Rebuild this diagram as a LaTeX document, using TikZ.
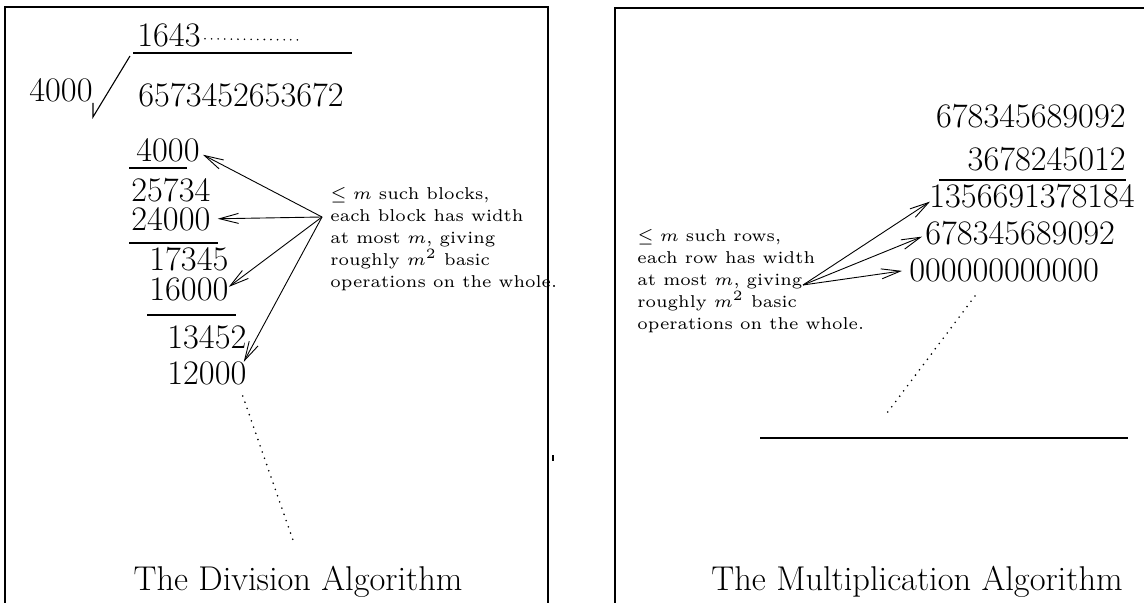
\documentclass[tikz,border=0pt]{standalone}
\usepackage{amsmath}
\usepackage{amssymb}
\usepackage{graphicx}
\usepackage{tikz}
\usetikzlibrary{arrows.meta}

\newcommand{\notetext}[1]{\scalebox{1.43}{\fontsize{6}{7.52}\selectfont\begin{tabular}[t]{@{}l@{}}#1\end{tabular}}}

\begin{document}
\begin{tikzpicture}[x=0.5pt, y=-0.5pt]
    \tikzset{num/.style = {inner sep=0pt, font=\fontsize{17.2}{20}\selectfont}}
    \tikzset{note/.style = {inner sep=0pt, anchor=base west}}
    \tikzset{arrow/.style = {-{Straight Barb[length=9.5pt,width=5pt]}, line width=0.45pt}}
    \tikzset{frame/.style = {line width=0.6pt}}
    \tikzset{rule/.style = {line width=0.55pt}}
    \tikzset{trail/.style = {line width=0.9pt, dash pattern=on 0pt off 3.3pt, line cap=round}}
    \useasboundingbox (0,0) rectangle (1144,603);
    % the division
    \draw[frame] (5,603) -- (5,7) -- (548,7) -- (548,603);
    \draw[rule] (553,455) -- (553,461);
    \node[num, anchor=base west] (quot) at (137,47) {1643};
    \coordinate (quotend) at (303,40);
    \draw[trail] ([xshift=2pt, yshift=-1.5pt]quot.east) -- (quotend);
    \draw[rule] (133,53) -- (352,53);
    \node[num, anchor=base west] (divisor) at (29,102) {4000};
    \draw[rule] (93,103) -- (93,117) -- (130,56);
    \node[num, anchor=base west] (dividend) at (138,107) {6573452653672};
    \node[num, anchor=base west] (sub1) at (136,162) {4000};
    \draw[rule] (129,168) -- (187,168);
    \node[num, anchor=base west] (rem1) at (131,202) {25734};
    \node[num, anchor=base west] (sub2) at (131,231) {24000};
    \draw[rule] (129,243) -- (218,243);
    \node[num, anchor=base west] (rem2) at (149,271) {17345};
    \node[num, anchor=base west] (sub3) at (149,301) {16000};
    \draw[rule] (147,315) -- (236,315);
    \node[num, anchor=base west] (rem3) at (167,349) {13452};
    \node[num, anchor=base west] (sub4) at (167,385) {12000};
    \coordinate (divend) at (294,543);
    \draw[trail] ([xshift=-2pt, yshift=-5pt]sub4.south east) -- (divend);
    \node[note] (blocks) at (330,200) {\notetext{$\leq m$ such blocks,\\each block has width\\at most $m$, giving\\roughly $m^2$ basic\\operations on the whole.}};
    \coordinate (blk) at (322,217);
    \draw[arrow] (blk) -- ([xshift=1.5pt, yshift=-2pt]sub1.east);
    \draw[arrow] (blk) -- ([xshift=3.5pt, yshift=0.5pt]sub2.east);
    \draw[arrow] (blk) -- ([yshift=1.5pt]sub3.east);
    \draw[arrow] (blk) -- ([xshift=-1.5pt]sub4.north east);
    \node[num, anchor=base] (divtitle) at (298,590) {The Division Algorithm};
    % the multiplication
    \draw[frame] (615,603) -- (615,8) -- (1144,8);
    \node[num, anchor=base east] (fac1) at (1126,128) {678345689092};
    \node[num, anchor=base east] (fac2) at (1126,171) {3678245012};
    \draw[rule] (939,180) -- (1126,180);
    \node[num, anchor=base west] (part1) at (929,208) {1356691378184};
    \node[num, anchor=base west] (part2) at (925,245) {678345689092};
    \node[num, anchor=base west] (part3) at (909,282) {000000000000};
    \coordinate (mulstart) at (975,296);
    \coordinate (mulend) at (884,417);
    \draw[trail] (mulstart) -- (mulend);
    \draw[rule] (760,438) -- (1128,438);
    \node[note] (rows) at (637,242) {\notetext{$\leq m$ such rows,\\each row has width\\at most $m$, giving\\roughly $m^2$ basic\\operations on the whole.}};
    \coordinate (row) at (803,285);
    \draw[arrow] (row) -- ([xshift=0.5pt, yshift=-2.5pt]part1.west);
    \draw[arrow] (row) -- ([xshift=-1.5pt, yshift=-1.5pt]part2.west);
    \draw[arrow] (row) -- ([xshift=-3.5pt]part3.west);
    \node[num, anchor=base] (multitle) at (917,590) {The Multiplication Algorithm};
\end{tikzpicture}
\end{document}
